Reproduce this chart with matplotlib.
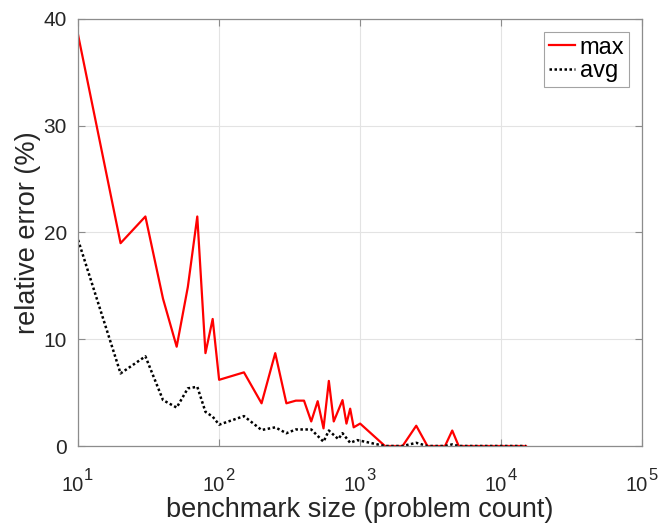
import matplotlib
matplotlib.use("Agg")
import matplotlib.pyplot as plt
from matplotlib.ticker import NullLocator

plt.rcParams['font.family'] = ['Liberation Sans', 'DejaVu Sans']

# benchmark sizes (problem count)
size_max = [10, 20, 30, 40, 50, 60, 70, 80, 90, 100, 150, 200, 250, 300, 350,
            400, 450, 500, 550, 600, 650, 750, 800, 850, 900, 1000, 1500, 2000,
            2500, 3000, 4000, 4500, 5000, 7000, 10000, 15000]
err_max = [38.5, 19.0, 21.5, 13.8, 9.3, 14.9, 21.5, 8.7, 11.9, 6.2, 6.9, 4.0,
           8.7, 4.0, 4.25, 4.25, 2.3, 4.2, 1.65, 6.1, 2.3, 4.3, 2.1, 3.5, 1.75,
           2.1, 0, 0, 1.9, 0, 0, 1.45, 0, 0, 0, 0]

size_avg = [10, 20, 30, 40, 50, 60, 70, 80, 90, 100, 150, 200, 250, 300, 350,
            450, 550, 600, 700, 750, 850, 950, 1000, 1500, 2000, 2500, 3000,
            4000, 4500, 5000, 7000, 10000, 15000]
err_avg = [19.3, 6.8, 8.4, 4.3, 3.6, 5.4, 5.55, 3.2, 2.75, 2.0, 2.8, 1.5,
           1.75, 1.2, 1.55, 1.55, 0.4, 1.45, 0.65, 1.2, 0.3, 0.55, 0.5,
           0, 0, 0.3, 0, 0, 0.15, 0, 0, 0, 0]

x_exps = [1, 2, 3, 4, 5]
y_ticks = [0, 10, 20, 30, 40]

text_c = '#262626'
fig = plt.figure(figsize=(6.62, 5.23), dpi=100)
ax = fig.add_axes([0.118, 0.1472, 0.852, 0.8165])

ax.plot(size_max, err_max, color='red', lw=1.6, label='max')
ax.plot(size_avg, err_avg, color='black', lw=1.8, ls=(0, (1, 1)), label='avg')

ax.set_xscale('log')
ax.set_xlim(10, 1e5)
ax.set_ylim(0, 40)
ax.set_xticks([10.0 ** e for e in x_exps])
ax.set_xticklabels([])
ax.xaxis.set_minor_locator(NullLocator())
ax.set_yticks(y_ticks)

# MATLAB-style 10^n labels: big superscript, raised high
for e in x_exps:
    ax.annotate('10', xy=(10.0 ** e, 0), xycoords=('data', 'axes fraction'),
                xytext=(3.8, -32.5), textcoords='offset points',
                ha='right', va='baseline', fontsize=14.5, color=text_c)
    ax.annotate(str(e), xy=(10.0 ** e, 0), xycoords=('data', 'axes fraction'),
                xytext=(4.4, -24.5), textcoords='offset points',
                ha='left', va='baseline', fontsize=12, color=text_c)

ax.grid(True, color='#e3e3e3', lw=0.8)
ax.set_axisbelow(True)
for s in ax.spines.values():
    s.set_color('#8c8c8c')
    s.set_linewidth(0.9)
ax.tick_params(direction='in', length=5, width=0.8, color='#8c8c8c',
               labelsize=15, labelcolor=text_c, top=True, right=True, pad=8)

ax.set_xlabel('benchmark size (problem count)', fontsize=19.5, color=text_c)
ax.xaxis.set_label_coords(0.5, -0.119)
ax.set_ylabel('relative error (%)', fontsize=19.5, color=text_c, labelpad=2)

leg = ax.legend(loc='upper right', fontsize=17, frameon=True, fancybox=False,
                handlelength=1.1, handletextpad=0.2, borderpad=0.2,
                labelspacing=0.05, borderaxespad=0.55)
leg.get_frame().set_edgecolor('#8c8c8c')
leg.get_frame().set_linewidth(0.8)
for t in leg.get_texts():
    t.set_color('black')

fig.savefig('out.png', dpi=100)
